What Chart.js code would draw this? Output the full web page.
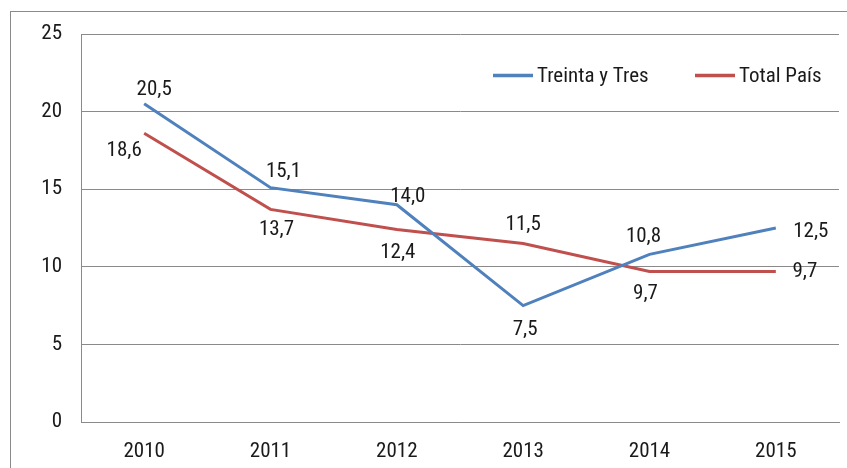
<!DOCTYPE html>
<html>
<head>
<meta charset="utf-8">
<script src="https://cdn.jsdelivr.net/npm/chart.js@4"></script>
<style>
  html, body { margin: 0; padding: 0; background: #fff; }
  #wrap { width: 847px; height: 468px; position: relative; }
</style>
</head>
<body>
<div id="wrap"><canvas id="chart"></canvas></div>
<script>
const years = ['2010', '2011', '2012', '2013', '2014', '2015'];
const treintaYTres = [20.5, 15.1, 14.0, 7.5, 10.8, 12.5];
const totalPais = [18.6, 13.7, 12.4, 11.5, 9.7, 9.7];
const yTicks = [0, 5, 10, 15, 20, 25];

const FONT = "'Roboto Condensed', 'DejaVu Sans Condensed', sans-serif";
const BLUE = '#4f81bd';
const RED = '#c0504d';

// label offsets (dx, dy) from each point, per dataset
const labelOffsets = [
  [[10, -14], [13, -16], [11, -8], [2, 24], [-6, -18], [35, 4]],
  [[-20, 17], [6, 20], [1, 23], [0, -19], [-4, 22], [29, 0]]
];

const fmt = v => v.toFixed(1).replace('.', ',');

const frame = {
  id: 'frame',
  beforeDraw(chart) {
    const ctx = chart.ctx;
    ctx.save();
    ctx.strokeStyle = '#8a8a8a';
    ctx.lineWidth = 1;
    ctx.strokeRect(10.5, 11.5, 900, 500);
    ctx.restore();
  }
};

const pointLabels = {
  id: 'pointLabels',
  afterDatasetsDraw(chart) {
    const ctx = chart.ctx;
    ctx.save();
    ctx.font = '21px ' + FONT;
    ctx.fillStyle = '#1a1a1a';
    ctx.textAlign = 'center';
    ctx.textBaseline = 'middle';
    chart.data.datasets.forEach((ds, di) => {
      const meta = chart.getDatasetMeta(di);
      meta.data.forEach((pt, i) => {
        const [dx, dy] = labelOffsets[di][i];
        ctx.fillText(fmt(ds.data[i]), pt.x + dx, pt.y + dy);
      });
    });
    ctx.restore();
  }
};

const insideLegend = {
  id: 'insideLegend',
  afterDraw(chart) {
    const ctx = chart.ctx;
    const spots = [493, 695];
    const y = 75.5;
    ctx.save();
    ctx.font = '21px ' + FONT;
    ctx.textBaseline = 'middle';
    ctx.textAlign = 'left';
    chart.data.datasets.forEach((ds, di) => {
      const x = spots[di];
      ctx.strokeStyle = ds.borderColor;
      ctx.lineWidth = 3.5;
      ctx.beginPath();
      ctx.moveTo(x, y);
      ctx.lineTo(x + 40, y);
      ctx.stroke();
      ctx.fillStyle = '#1a1a1a';
      ctx.fillText(ds.label, x + 44, y + 1);
    });
    ctx.restore();
  }
};

new Chart(document.getElementById('chart'), {
  type: 'line',
  data: {
    labels: years,
    datasets: [
      {
        label: 'Treinta y Tres',
        data: treintaYTres,
        borderColor: BLUE,
        backgroundColor: BLUE,
        borderWidth: 3,
        pointRadius: 0,
        tension: 0
      },
      {
        label: 'Total País',
        data: totalPais,
        borderColor: RED,
        backgroundColor: RED,
        borderWidth: 3,
        pointRadius: 0,
        tension: 0
      }
    ]
  },
  options: {
    responsive: true,
    maintainAspectRatio: false,
    animation: false,
    layout: { padding: { left: 0, top: 34, right: 8, bottom: 0 } },
    plugins: {
      legend: { display: false },
      tooltip: { enabled: false }
    },
    scales: {
      x: {
        offset: true,
        grid: { display: false, drawTicks: false },
        border: { display: true, color: '#8a8a8a', width: 1 },
        ticks: { color: '#1a1a1a', font: { family: FONT, size: 21 }, padding: 17, maxRotation: 0 },
        afterFit(scale) { scale.height = 46; }
      },
      y: {
        min: 0,
        max: 25,
        afterBuildTicks(scale) { scale.ticks = yTicks.map(v => ({ value: v })); },
        grid: { color: '#8a8a8a', lineWidth: 1, drawTicks: false },
        border: { display: true, color: '#8a8a8a', width: 1 },
        ticks: { color: '#1a1a1a', font: { family: FONT, size: 21 }, padding: 19 },
        afterFit(scale) { scale.width = 81; }
      }
    }
  },
  plugins: [frame, pointLabels, insideLegend]
});
</script>
</body>
</html>
